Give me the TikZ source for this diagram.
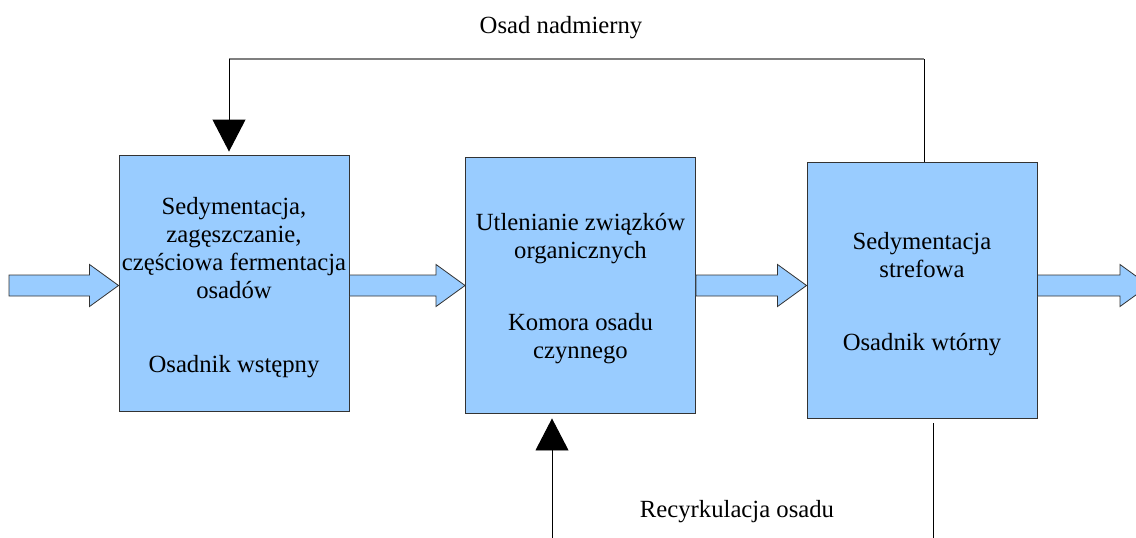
\documentclass[tikz,border=0pt]{standalone}
\usepackage{fontspec}
\setmainfont{Liberation Serif}
\usetikzlibrary{arrows.meta,calc}
\definecolor{boxblue}{HTML}{99CCFF}
\definecolor{boxline}{HTML}{333333}
\definecolor{fbgray}{HTML}{7F7F7F}
\tikzset{
  stage/.style={draw=boxline, line width=0.9pt, fill=boxblue, minimum width=230pt, minimum height=256pt, inner sep=0pt},
  lbl/.style={font=\fontsize{24.7pt}{28pt}\selectfont, align=center, inner sep=0pt, anchor=base},
  fat/.style={draw=boxline, line width=0.8pt, fill=boxblue, line join=miter},
  thin/.style={draw=black, line width=0.9pt},
  grayline/.style={draw=fbgray, line width=1.4pt},
  bigtip/.style={-{Triangle[width=33pt,length=32pt]}},
}
\newcommand{\fatarr}[2]{\draw[fat] let \p1=(#1), \p2=(#2) in
  (\x1,\y1+10.5pt) -- (\x2-29pt,\y1+10.5pt) -- (\x2-29pt,\y1+21pt) -- (\x2,\y1)
  -- (\x2-29pt,\y1-21pt) -- (\x2-29pt,\y1-10.5pt) -- (\x1,\y1-10.5pt) -- cycle;}
\begin{document}
\begin{tikzpicture}[x=1pt,y=-1pt]
\useasboundingbox (0,0) rectangle (1136,538);
\clip (0,0) rectangle (1136,538);
\fill[white] (0,0) rectangle (1136,538);
% stages
\node[stage] (b1) at (234,283) {};
\node[stage] (b2) at (580.5,285) {};
\node[stage] (b3) at (922,290) {};
% in/out and mid-line coordinates
\coordinate (mid) at (0,285.5);
\coordinate (in) at (9,285.5);
\coordinate (out) at (1149,285.5);
% fat arrows
\fatarr{in}{b1.west |- mid}
\fatarr{b1.east |- mid}{b2.west |- mid}
\fatarr{b2.east |- mid}{b3.west |- mid}
\fatarr{b3.east |- mid}{out}
% labels in stages (anchor base = baseline of last line)
\node[lbl] (t1) at (234,298) {Sedymentacja,\\zagęszczanie,\\częściowa fermentacja\\osadów};
\node[lbl] (t1b) at (234,372) {Osadnik wstępny};
\node[lbl] (t2) at (580.5,258) {Utlenianie związków\\organicznych};
\node[lbl] (t2b) at (580.5,358) {Komora osadu\\czynnego};
\node[lbl] (t3) at (922,277) {Sedymentacja\\strefowa};
\node[lbl] (t3b) at (922,350) {Osadnik wtórny};
% excess sludge feedback
\coordinate (tr) at (924,59);
\coordinate (tl) at (229,59);
\draw[thin] (tr) -- (b3.north -| tr);
\draw[grayline] (tl) -- (tr);
\draw[thin, bigtip, shorten >=3pt] (tl) -- (b1.north -| tl);
\node[lbl] (osad) at (561,33) {Osad nadmierny};
% sludge recirculation
\coordinate (rl) at (552,538);
\coordinate (rr) at (933,538);
\draw[thin, bigtip, shorten >=5pt] (rl) -- (b2.south -| rl);
\draw[thin, shorten <=5pt] (b3.south -| rr) -- (rr);
\node[lbl] (rec) at (737,517) {Recyrkulacja osadu};
\end{tikzpicture}
\end{document}
